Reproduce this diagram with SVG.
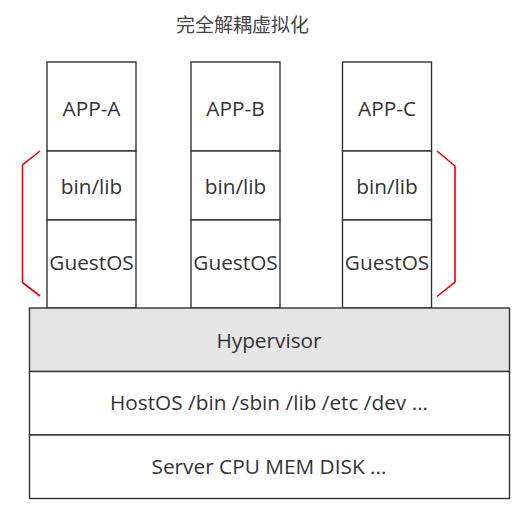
<svg xmlns="http://www.w3.org/2000/svg" width="519" height="516" viewBox="0 0 519 516">
<style>
.box{fill:#fff;stroke:#333;stroke-width:1.4}
.hv{fill:#e5e5e5;stroke:#333;stroke-width:1.4}
.t{font-family:"Open Sans","Noto Sans",sans-serif;font-size:20.8px;fill:#333;text-anchor:middle}
.title{font-family:"Noto Sans CJK SC",sans-serif;font-size:19px;fill:#444;text-anchor:middle}
.br{fill:none;stroke:#e00;stroke-width:1.6}
</style>
<rect width="519" height="516" fill="#fff"/>
<text class="title" x="242.5" y="32">完全解耦虚拟化</text>
<g id="stackA">
<rect class="box" x="47" y="62" width="89" height="89"/>
<rect class="box" x="47" y="151" width="89" height="69"/>
<rect class="box" x="47" y="220" width="89" height="88"/>
<text class="t" x="91.5" y="116">APP-A</text>
<text class="t" x="91.5" y="193.5">bin/lib</text>
<text class="t" x="91.5" y="270">GuestOS</text>
</g>
<g id="stackB">
<rect class="box" x="191" y="62" width="89" height="89"/>
<rect class="box" x="191" y="151" width="89" height="69"/>
<rect class="box" x="191" y="220" width="89" height="88"/>
<text class="t" x="235.5" y="116">APP-B</text>
<text class="t" x="235.5" y="193.5">bin/lib</text>
<text class="t" x="235.5" y="270">GuestOS</text>
</g>
<g id="stackC">
<rect class="box" x="342.5" y="62" width="89" height="89"/>
<rect class="box" x="342.5" y="151" width="89" height="69"/>
<rect class="box" x="342.5" y="220" width="89" height="88"/>
<text class="t" x="387" y="116">APP-C</text>
<text class="t" x="387" y="193.5">bin/lib</text>
<text class="t" x="387" y="270">GuestOS</text>
</g>
<g id="hypervisor">
<rect class="hv" x="29.5" y="308" width="480" height="63.5"/>
<text class="t" x="269" y="347.5">Hypervisor</text>
</g>
<g id="hostos">
<rect class="box" x="29.5" y="371.5" width="480" height="63.5"/>
<text class="t" x="269" y="410">HostOS /bin /sbin /lib /etc /dev ...</text>
</g>
<g id="server">
<rect class="box" x="29.5" y="435" width="480" height="63.5"/>
<text class="t" x="269" y="473.5">Server CPU MEM DISK ...</text>
</g>
<g id="connectors">
<polyline class="br" points="40,151 22.5,165 22.5,282.5 40,296"/>
<polyline class="br" points="437,151 455,166 455,282 437,296.5"/>
</g>
</svg>
